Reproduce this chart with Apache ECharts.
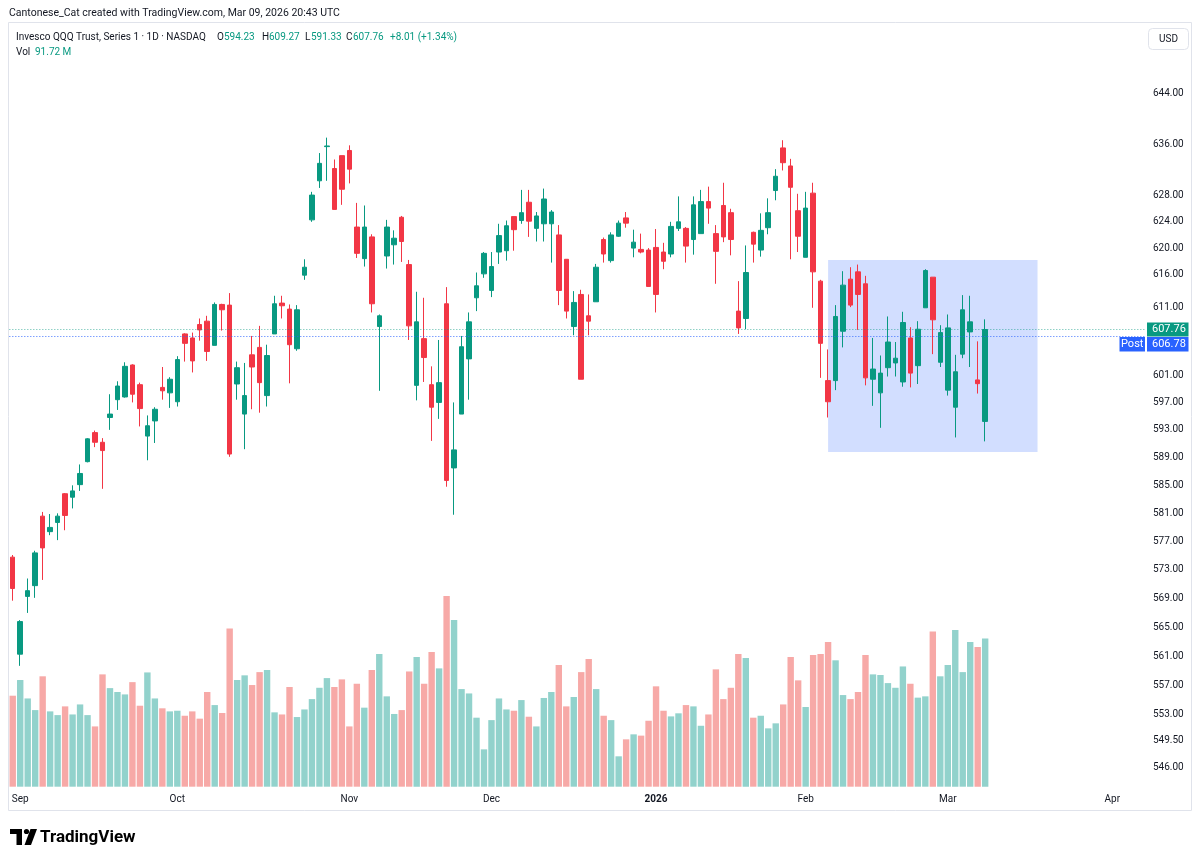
<!DOCTYPE html>
<html>
<head>
<meta charset="utf-8">
<title>QQQ 1D</title>
<script src="https://cdn.jsdelivr.net/npm/echarts@6/dist/echarts.min.js"></script>
<style>
  html, body { margin: 0; padding: 0; background: #fff; }
  #chart { width: 1200px; height: 863px; }
</style>
</head>
<body>
<div id="chart"></div>
<script>
const UP = '#089981';
const DOWN = '#F23645';
const BLUE = '#2962FF';
const INK = '#131722';
const FONT = 'Roboto, "Noto Sans", sans-serif';

// trading calendar: first bar Fri 29 Aug 2025, empty slots run on into April
const firstDay = '2025-08-29';
const slotCount = 152;
const holidays = ['2025-09-01', '2025-11-27', '2025-12-25', '2026-01-01',
                  '2026-01-19', '2026-02-16', '2026-04-03'];

const opens = [
  574.8, 561.3, 569.3, 570.8, 580.6, 578.4, 579.7, 583.8, 583.3, 585.1,
  588.4, 592.6, 591.2, 594.8, 597.4, 597.8, 602.5, 599.6, 592.1, 594.3,
  599.2, 598.4, 597.1, 607.1, 606.5, 608.5, 609.0, 605.4, 611.5, 611.4,
  599.7, 595.3, 604.0, 605.1, 598.0, 607.1, 611.7, 610.8, 604.9, 615.9,
  624.3, 630.3, 635.6, 632.2, 634.2, 635.0, 623.2, 618.4, 621.7, 608.2,
  618.8, 620.5, 624.7, 617.5, 599.5, 606.4, 599.6, 597.0, 611.6, 587.5,
  595.3, 603.4, 612.5, 616.1, 613.6, 619.4, 619.6, 624.8, 624.2, 627.0,
  623.0, 623.7, 623.7, 622.0, 618.3, 608.2, 613.0, 609.8, 611.9, 621.3,
  618.1, 621.8, 624.6, 620.0, 619.8, 619.7, 620.1, 619.4, 619.1, 623.0,
  623.0, 621.3, 622.2, 627.1, 622.2, 626.5, 625.4, 610.5, 609.4, 622.4,
  619.7, 623.1, 628.8, 635.4, 632.6, 625.7, 618.6, 628.4, 615.0, 600.2,
  600.2, 607.5, 615.3, 616.4, 614.6, 600.4, 598.4, 602.1, 602.8, 600.0,
  606.5, 602.4, 611.0, 615.6, 602.9, 598.8, 596.3, 604.1, 607.4, 600.3,
  594.23
];
const highs = [
  575.1, 566.0, 571.8, 575.7, 581.2, 580.9, 581.0, 583.9, 585.0, 588.0,
  591.8, 592.9, 591.8, 598.2, 600.1, 602.9, 602.6, 599.9, 595.1, 596.3,
  602.2, 600.7, 603.8, 607.2, 607.3, 609.4, 609.8, 611.8, 611.6, 613.2,
  603.0, 602.8, 606.8, 608.3, 605.5, 612.8, 612.8, 611.5, 611.4, 618.3,
  628.6, 634.6, 637.0, 633.6, 634.2, 635.8, 626.9, 626.5, 622.1, 610.0,
  624.3, 622.7, 624.9, 618.2, 613.4, 612.5, 602.3, 606.2, 614.1, 597.0,
  606.8, 610.3, 616.3, 619.4, 619.4, 623.7, 624.2, 624.8, 628.9, 628.9,
  625.5, 629.1, 625.8, 623.5, 618.3, 613.5, 613.7, 613.0, 617.6, 621.6,
  622.4, 624.2, 625.5, 622.8, 622.2, 620.0, 622.9, 620.8, 624.0, 627.9,
  623.2, 627.9, 628.9, 629.4, 623.5, 630.0, 626.0, 615.0, 620.4, 622.5,
  625.3, 627.6, 632.1, 636.6, 633.7, 628.3, 628.6, 630.0, 615.2, 604.8,
  611.4, 616.5, 617.1, 617.5, 615.8, 606.5, 603.9, 609.7, 605.9, 610.4,
  608.1, 609.0, 616.8, 615.6, 608.4, 610.0, 604.0, 612.9, 612.8, 606.0,
  609.27
];
const lows = [
  568.7, 559.7, 567.0, 569.1, 571.6, 577.9, 577.2, 578.6, 581.7, 584.2,
  588.3, 590.5, 584.5, 593.0, 595.9, 597.7, 597.0, 593.5, 588.6, 591.1,
  597.4, 596.2, 596.4, 603.0, 601.4, 606.1, 603.1, 605.4, 607.6, 589.1,
  597.4, 590.2, 596.0, 595.5, 596.4, 607.1, 609.4, 599.8, 604.6, 615.2,
  624.0, 629.2, 630.3, 625.9, 626.6, 629.9, 618.5, 617.2, 610.3, 598.7,
  616.9, 617.5, 617.9, 606.2, 597.3, 600.0, 591.4, 594.6, 584.8, 580.8,
  595.3, 597.4, 610.5, 615.5, 612.6, 617.6, 618.1, 619.6, 623.7, 621.7,
  621.0, 621.0, 617.8, 611.4, 609.4, 606.9, 600.4, 606.9, 611.9, 617.8,
  617.8, 621.7, 623.1, 618.6, 619.2, 614.2, 610.3, 616.8, 618.6, 622.6,
  617.8, 619.0, 622.2, 623.7, 614.6, 620.9, 618.9, 607.1, 607.8, 617.8,
  618.7, 622.1, 627.3, 631.9, 618.3, 619.4, 618.6, 611.0, 600.6, 594.8,
  598.8, 605.1, 611.1, 607.7, 599.5, 596.5, 593.3, 600.8, 600.8, 599.3,
  599.2, 599.7, 611.0, 604.1, 602.2, 598.0, 591.9, 603.5, 602.2, 598.3,
  591.33
];
const closes = [
  570.4, 565.8, 570.1, 575.4, 576.1, 579.0, 580.6, 580.7, 584.2, 586.7,
  591.7, 591.2, 590.0, 595.3, 599.4, 602.3, 598.2, 596.1, 593.6, 596.0,
  598.7, 600.4, 603.3, 605.7, 603.1, 607.7, 604.5, 611.5, 610.7, 589.5,
  602.1, 598.0, 602.2, 599.9, 603.9, 611.6, 611.3, 605.5, 610.7, 617.1,
  628.1, 633.0, 635.7, 625.9, 629.0, 632.1, 619.2, 623.2, 611.6, 609.8,
  623.2, 621.5, 621.0, 608.3, 608.9, 603.6, 596.3, 599.9, 585.7, 590.1,
  605.2, 608.9, 614.3, 619.2, 617.2, 621.9, 623.4, 622.8, 625.4, 624.1,
  624.9, 627.5, 625.5, 613.6, 610.5, 611.8, 600.4, 609.0, 617.1, 619.1,
  622.0, 623.8, 623.8, 620.9, 619.4, 614.2, 613.0, 618.0, 623.3, 624.0,
  620.3, 626.6, 627.1, 626.1, 619.5, 621.7, 621.3, 608.0, 616.3, 620.6,
  622.7, 625.4, 631.0, 633.1, 629.3, 621.8, 626.1, 616.4, 605.7, 597.1,
  609.7, 614.4, 611.4, 613.0, 600.6, 601.9, 601.3, 605.9, 603.5, 608.8,
  601.3, 607.8, 616.6, 609.2, 607.3, 608.0, 601.5, 610.7, 608.9, 599.75,
  607.76
];
// volume in millions of shares
const volumes = [
  56.3, 66.0, 54.6, 47.4, 68.3, 46.6, 44.3, 49.7, 44.7, 50.9,
  44.3, 37.3, 69.5, 61.0, 58.6, 57.1, 64.7, 50.1, 70.7, 54.6,
  48.5, 46.6, 47.0, 43.9, 46.6, 42.1, 58.6, 50.5, 45.6, 97.9,
  66.0, 68.9, 62.9, 70.9, 72.2, 46.0, 44.7, 61.7, 43.1, 47.8,
  54.2, 61.2, 67.2, 61.7, 66.4, 37.3, 63.7, 48.9, 72.2, 82.1,
  55.9, 45.0, 47.4, 71.3, 80.2, 63.7, 83.3, 73.2, 118.0, 103.1,
  60.4, 57.7, 42.7, 23.1, 41.2, 54.6, 47.8, 47.0, 53.6, 43.3,
  37.3, 54.9, 58.6, 75.3, 49.7, 55.5, 70.9, 79.0, 60.4, 43.9,
  41.2, 18.8, 29.3, 32.4, 31.6, 40.8, 62.1, 47.0, 43.5, 45.4,
  50.5, 49.7, 37.7, 44.7, 72.6, 54.2, 61.2, 82.1, 79.6, 42.7,
  43.9, 36.1, 39.2, 50.9, 80.2, 65.8, 49.3, 81.5, 82.1, 89.5,
  78.2, 56.7, 54.2, 58.6, 81.5, 69.5, 69.1, 64.1, 61.2, 74.4,
  63.7, 55.1, 55.9, 96.1, 68.3, 75.3, 96.9, 70.9, 89.5, 86.4,
  91.72
];

const priceTicks = [644, 636, 628, 624, 620, 616, 611, 601, 597, 593, 589, 585,
                    581, 577, 573, 569, 565, 561, 557, 553, 549.5, 546];
const lastPrice = 607.76;
const postPrice = 606.78;
// drawn rectangle: bar index range and price range
const boxBars = [109, 137];
const boxPrices = [618.2, 589.8];

const MONTHS = ['Jan', 'Feb', 'Mar', 'Apr', 'May', 'Jun', 'Jul', 'Aug', 'Sep', 'Oct', 'Nov', 'Dec'];

function tradingDays(start, n) {
  const out = [];
  const d = new Date(start + 'T00:00:00Z');
  while (out.length < n) {
    const s = d.toISOString().slice(0, 10);
    const wd = d.getUTCDay();
    if (wd !== 0 && wd !== 6 && holidays.indexOf(s) < 0) out.push(s);
    d.setUTCDate(d.getUTCDate() + 1);
  }
  return out;
}
const days = tradingDays(firstDay, slotCount);

function isMonthStart(i) {
  return i > 0 && days[i].slice(5, 7) !== days[i - 1].slice(5, 7);
}

const candles = opens.map((o, i) => [o, closes[i], lows[i], highs[i]]);
const volBars = volumes.map((v, i) => ({
  value: v,
  itemStyle: { color: closes[i] >= opens[i] ? '#92d2cc' : '#f7a9a7' }
}));

const chart = echarts.init(document.getElementById('chart'));

const option = {
  animation: false,
  backgroundColor: '#ffffff',
  grid: [
    { left: 9, width: 1137, top: 22, bottom: 75 },
    { left: 9, width: 1137, top: 590, bottom: 76.3 }
  ],
  xAxis: [
    { type: 'category', gridIndex: 0, data: days, show: false },
    {
      type: 'category', gridIndex: 1, data: days,
      axisLine: { show: false }, axisTick: { show: false }, splitLine: { show: false },
      axisLabel: {
        margin: 8,
        fontFamily: FONT, fontSize: 10, color: INK,
        hideOverlap: false,
        interval: (idx) => isMonthStart(idx),
        formatter: (val) => {
          const m = +val.slice(5, 7) - 1;
          return m === 0 ? '{y|' + val.slice(0, 4) + '}' : MONTHS[m];
        },
        rich: { y: { fontFamily: FONT, fontSize: 10, fontWeight: 'bold', color: INK } }
      }
    }
  ],
  yAxis: [
    { type: 'log', logBase: 10, gridIndex: 0, min: 543.2, max: 655.3, show: false },
    { type: 'value', gridIndex: 1, min: 0, max: 121.7, show: false }
  ],
  series: [
    {
      type: 'bar', name: 'Vol', xAxisIndex: 1, yAxisIndex: 1,
      data: volBars, barWidth: 6.4, z: 1
    },
    {
      type: 'candlestick', name: 'QQQ', xAxisIndex: 0, yAxisIndex: 0,
      data: candles, barWidth: 5, z: 3,
      itemStyle: { color: UP, color0: DOWN, borderColor: UP, borderColor0: DOWN, borderWidth: 1 },
      markLine: {
        silent: true, symbol: ['none', 'none'], label: { show: false },
        lineStyle: { type: [1.5, 1.5], width: 1, color: 'rgba(8,153,129,0.45)' },
        data: [{ yAxis: lastPrice }]
      },
      markArea: {
        silent: true,
        itemStyle: { color: 'rgba(41,98,255,0.21)' },
        data: [[
          { xAxis: days[boxBars[0]], yAxis: boxPrices[0] },
          { xAxis: days[boxBars[1]], yAxis: boxPrices[1] }
        ]]
      }
    },
    {
      // post-market price line
      type: 'line', name: 'Post', xAxisIndex: 0, yAxisIndex: 0, data: [],
      markLine: {
        silent: true, symbol: ['none', 'none'], label: { show: false },
        lineStyle: { type: [1.5, 1.5], width: 1, color: 'rgba(41,98,255,0.6)' },
        data: [{ yAxis: postPrice }]
      }
    }
  ]
};
chart.setOption(option);

// overlay: frame, header, price scale, last-price tags, logo
const yOf = (p) => chart.convertToPixel({ yAxisIndex: 0 }, p);
const txt = (x, y, text, fill, extra) => ({
  type: 'text', x: x, y: y, silent: true,
  style: Object.assign({ text: text, fill: fill, font: '10px ' + FONT,
                         textAlign: 'left', textVerticalAlign: 'middle' }, extra || {})
});

const graphics = [];
graphics.push({ type: 'rect', shape: { x: 8.5, y: 22.5, width: 1183, height: 788 },
                style: { fill: 'none', stroke: '#e0e3eb', lineWidth: 1 }, silent: true, z: -1 });
graphics.push(txt(9, 13, 'Cantonese_Cat created with TradingView.com, Mar 09, 2026 20:43 UTC', INK,
                  { font: '10.5px ' + FONT }));

// legend line
graphics.push(txt(16, 37, 'Invesco QQQ Trust, Series 1 · 1D · NASDAQ', INK));
const ohlc = [['O', 217, 224, opens[130]], ['H', 262, 269, highs[130]],
              ['L', 305, 311, lows[130]], ['C', 346, 353, closes[130]]];
ohlc.forEach(r => {
  graphics.push(txt(r[1], 37, r[0], INK));
  graphics.push(txt(r[2], 37, r[3].toFixed(2), UP));
});
const chg = closes[130] - closes[129];
graphics.push(txt(390, 37, '+' + chg.toFixed(2) + ' (+' + (chg / closes[129] * 100).toFixed(2) + '%)', UP));
graphics.push(txt(16, 52.5, 'Vol', INK));
graphics.push(txt(35, 52.5, volumes[130].toFixed(2) + ' M', UP));

// currency button
graphics.push({ type: 'rect', shape: { x: 1148.5, y: 28.5, width: 40, height: 21, r: 4 },
                style: { fill: '#fff', stroke: '#e0e3eb', lineWidth: 1 }, silent: true });
graphics.push(txt(1168.5, 39, 'USD', INK, { textAlign: 'center' }));

// price scale labels on the log axis
priceTicks.forEach(p => graphics.push(txt(1153, yOf(p), p.toFixed(2), INK)));

// last price and post-market tags
const yLast = yOf(lastPrice);
graphics.push({ type: 'rect', shape: { x: 1147, y: yLast - 7, width: 41.5, height: 14 },
                style: { fill: UP }, silent: true });
graphics.push(txt(1152, yLast, lastPrice.toFixed(2), '#fff', { font: '11px ' + FONT }));
const yPost = yLast + 14.5;
graphics.push({ type: 'rect', shape: { x: 1119.5, y: yPost - 7, width: 25.5, height: 14.5 },
                style: { fill: BLUE }, silent: true });
graphics.push(txt(1132.2, yPost, 'Post', '#fff', { textAlign: 'center', font: '11px ' + FONT }));
graphics.push({ type: 'rect', shape: { x: 1147, y: yPost - 7, width: 41.5, height: 14.5 },
                style: { fill: BLUE }, silent: true });
graphics.push(txt(1152, yPost, postPrice.toFixed(2), '#fff', { font: '11px ' + FONT }));

// TradingView logo
graphics.push({ type: 'polygon', silent: true, style: { fill: '#000' },
                shape: { points: [[10, 829], [22, 829], [22, 845], [16.5, 845], [16.5, 834], [10, 834]] } });
graphics.push({ type: 'circle', silent: true, style: { fill: '#000' }, shape: { cx: 26.5, cy: 831.5, r: 2.6 } });
graphics.push({ type: 'polygon', silent: true, style: { fill: '#000' },
                shape: { points: [[30.5, 829], [37, 829], [31, 845], [24.5, 845]] } });
graphics.push(txt(40, 837.5, 'TradingView', '#000', { font: 'bold 17px ' + FONT }));

chart.setOption({ graphic: { elements: graphics } });
</script>
</body>
</html>
